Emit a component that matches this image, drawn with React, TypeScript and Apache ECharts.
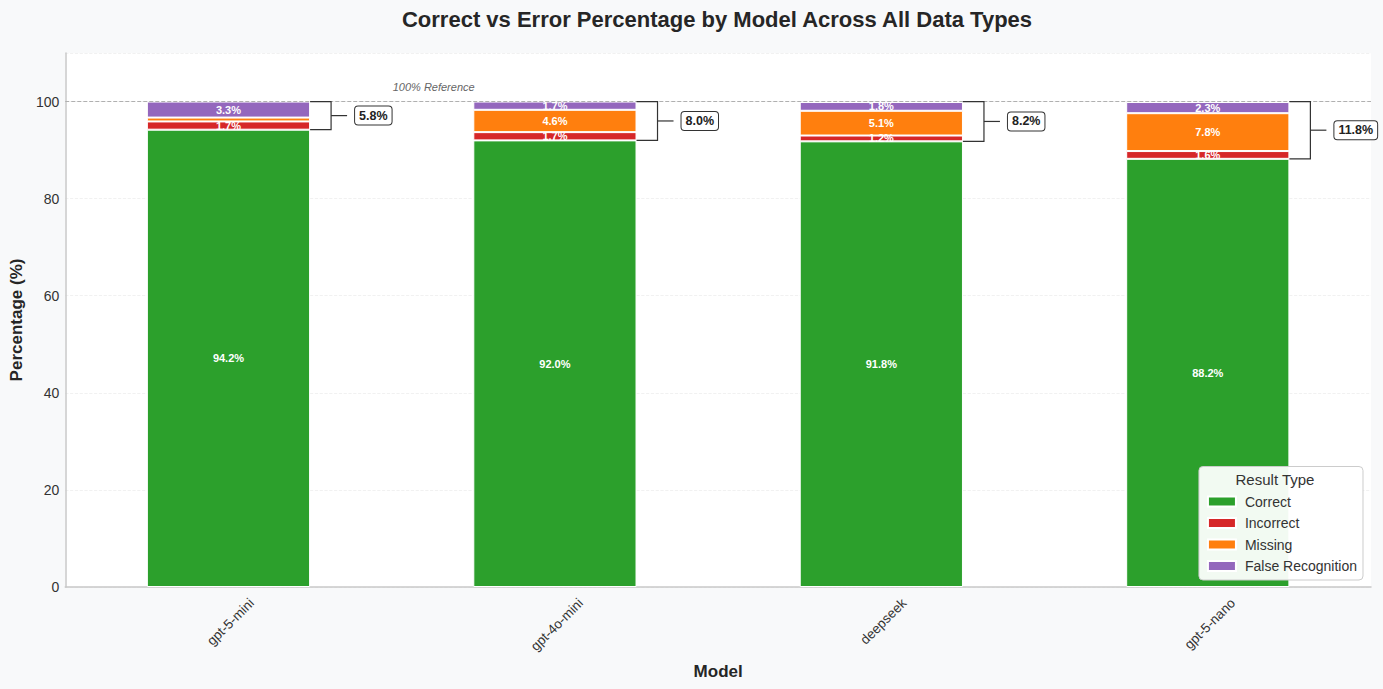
import React, { useEffect, useRef } from "react";
import * as echarts from "echarts";

const models = ["gpt-5-mini", "gpt-4o-mini", "deepseek", "gpt-5-nano"];
const correct = [94.2, 92.0, 91.8, 88.2];
const incorrect = [1.7, 1.7, 1.2, 1.6];
const missing = [0.8, 4.6, 5.1, 7.8];
const falseRecognition = [3.3, 1.7, 1.8, 2.3];
const yTicks = [0, 20, 40, 60, 80, 100];

const FONT = "'Liberation Sans', Arial, sans-serif";
const XLABEL_SIZE = 13.5;

function measure(text: string, font: string): number {
  const c = document.createElement("canvas").getContext("2d");
  if (!c) return text.length * 7;
  c.font = font;
  return c.measureText(text).width;
}

export default function App() {
  const ref = useRef<HTMLDivElement>(null);
  useEffect(() => {
    if (!ref.current) return;
    const chart = echarts.init(ref.current, undefined, { renderer: "svg" });

    const segLabel = (threshold: number) => ({
      show: true,
      position: "inside",
      color: "#fff",
      fontWeight: "bold",
      fontSize: 11,
      fontFamily: FONT,
      formatter: (p: any) => (p.value > threshold ? p.value.toFixed(1) + "%" : ""),
    });

    const mkBar = (name: string, data: number[], color: string) => ({
      name,
      type: "bar",
      stack: "total",
      data,
      barWidth: "50%",
      itemStyle: { color, borderColor: "#fff", borderWidth: 1 },
      label: segLabel(1.0),
      emphasis: { disabled: true },
    });

    const bracketData = models.map((_, i) => [i, correct[i], 100 - correct[i]]);
    const labelFont = `${XLABEL_SIZE}px 'Liberation Sans', Arial, sans-serif`;

    const option: any = {
      animation: false,
      backgroundColor: "#f8f9fa",
      textStyle: { fontFamily: FONT },
      grid: {
        left: 64,
        right: 12,
        top: 53,
        bottom: 102,
        show: true,
        backgroundColor: "#ffffff",
        borderWidth: 0,
      },
      legend: {
        orient: "vertical",
        right: 20,
        bottom: 109,
        data: ["Correct", "Incorrect", "Missing", "False Recognition"],
        itemWidth: 28,
        itemHeight: 10,
        itemGap: 5.5,
        padding: [27, 6, 6, 8],
        backgroundColor: "rgba(255,255,255,0.94)",
        borderColor: "#cccccc",
        borderWidth: 1,
        borderRadius: 4,
        icon: "rect",
        textStyle: { fontSize: 14, color: "#333", fontFamily: FONT, padding: [0, 0, 0, 4], lineHeight: 16 },
        selectedMode: false,
      },
      graphic: [
        {
          type: "text",
          x: 717,
          y: 19,
          style: {
            text: "Correct vs Error Percentage by Model Across All Data Types",
            fontSize: 22,
            fontWeight: "bold",
            fill: "#262626",
            fontFamily: FONT,
            align: "center",
            verticalAlign: "middle",
          },
        },
        {
          type: "text",
          x: 1275,
          y: 479,
          style: {
            text: "Result Type",
            fontSize: 15,
            fill: "#333",
            fontFamily: FONT,
            align: "center",
            verticalAlign: "middle",
          },
          z: 100,
        },
      ],
      xAxis: {
        type: "category",
        data: models,
        name: "Model",
        nameLocation: "middle",
        nameGap: 76,
        nameTextStyle: { fontSize: 17, fontWeight: "bold", color: "#262626", fontFamily: FONT },
        axisLine: { lineStyle: { color: "#c8c8c8", width: 1.5 } },
        axisTick: { show: false },
        axisLabel: { show: false },
        splitLine: { show: false },
      },
      yAxis: {
        type: "value",
        min: 0,
        max: 110,
        interval: 20,
        name: "Percentage (%)",
        nameLocation: "middle",
        nameGap: 38,
        nameTextStyle: { fontSize: 17, fontWeight: "bold", color: "#262626", fontFamily: FONT },
        axisLine: { show: true, lineStyle: { color: "#c8c8c8", width: 1.5 } },
        axisTick: { show: false },
        axisLabel: {
          fontSize: 14,
          color: "#333",
          fontFamily: FONT,
          margin: 6,
          formatter: (v: number) => (yTicks.includes(v) ? String(v) : ""),
        },
        splitLine: { show: true, lineStyle: { color: "#eeeeee", type: "dashed", width: 0.8 } },
      },
      series: [
        {
          ...mkBar("Correct", correct, "#2ca02c"),
          markLine: {
            silent: true,
            symbol: "none",
            label: { show: false },
            lineStyle: { color: "#b0b0b0", type: "dashed", width: 1 },
            data: [{ yAxis: 100 }],
          },
        },
        mkBar("Incorrect", incorrect, "#d62728"),
        mkBar("Missing", missing, "#ff7f0e"),
        mkBar("False Recognition", falseRecognition, "#9467bd"),
        {
          type: "custom",
          name: "brackets",
          data: bracketData,
          silent: true,
          z: 10,
          clip: false,
          renderItem: (params: any, api: any) => {
            const idx = api.value(0);
            const low = api.value(1);
            const total = api.value(2);
            const top = api.coord([idx, 100]);
            const bot = api.coord([idx, low]);
            const base = api.coord([idx, 0]);
            const band = api.size([1, 0])[0];
            const x0 = top[0] + band * 0.25;
            const xv = x0 + 21;
            const ym = (top[1] + bot[1]) / 2;
            const stroke = { stroke: "#333", lineWidth: 1.2, fill: "none" };
            const name = models[idx];
            const w = measure(name, labelFont);
            const h = XLABEL_SIZE;
            const half = (w * Math.SQRT1_2 + h * Math.SQRT1_2) / 2;
            const children: any[] = [
              {
                type: "polyline",
                shape: { points: [[x0, top[1]], [xv, top[1]], [xv, bot[1]], [x0, bot[1]]] },
                style: stroke,
              },
              { type: "line", shape: { x1: xv, y1: ym, x2: xv + 16, y2: ym }, style: stroke },
              {
                type: "text",
                x: xv + 24,
                y: ym,
                style: {
                  text: total.toFixed(1) + "%",
                  fontSize: 12.5,
                  fontWeight: "bold",
                  fontFamily: FONT,
                  fill: "#222",
                  verticalAlign: "middle",
                  align: "left",
                  backgroundColor: "#fff",
                  borderColor: "#333",
                  borderWidth: 1,
                  borderRadius: 3,
                  padding: [3, 4, 2, 4],
                },
              },
              {
                type: "text",
                x: base[0] + 2,
                y: base[1] + 9 + half,
                rotation: Math.PI / 4,
                style: {
                  text: name,
                  fontSize: XLABEL_SIZE,
                  fontFamily: FONT,
                  fill: "#333",
                  align: "center",
                  verticalAlign: "middle",
                },
              },
            ];
            if (idx === 0) {
              const next = api.coord([1, 100]);
              children.push({
                type: "text",
                x: (top[0] + next[0]) / 2 + 1,
                y: top[1] - 9,
                style: {
                  text: "100% Reference",
                  fontSize: 11,
                  fontStyle: "italic",
                  fontFamily: FONT,
                  fill: "#666",
                  align: "left",
                  verticalAlign: "bottom",
                },
              });
            }
            return { type: "group", children };
          },
        },
      ],
    };
    chart.setOption(option);
    return () => chart.dispose();
  }, []);
  return (
    <div
      ref={ref}
      style={{ position: "absolute", left: 0, top: 0, width: 1383, height: 689 }}
    />
  );
}
